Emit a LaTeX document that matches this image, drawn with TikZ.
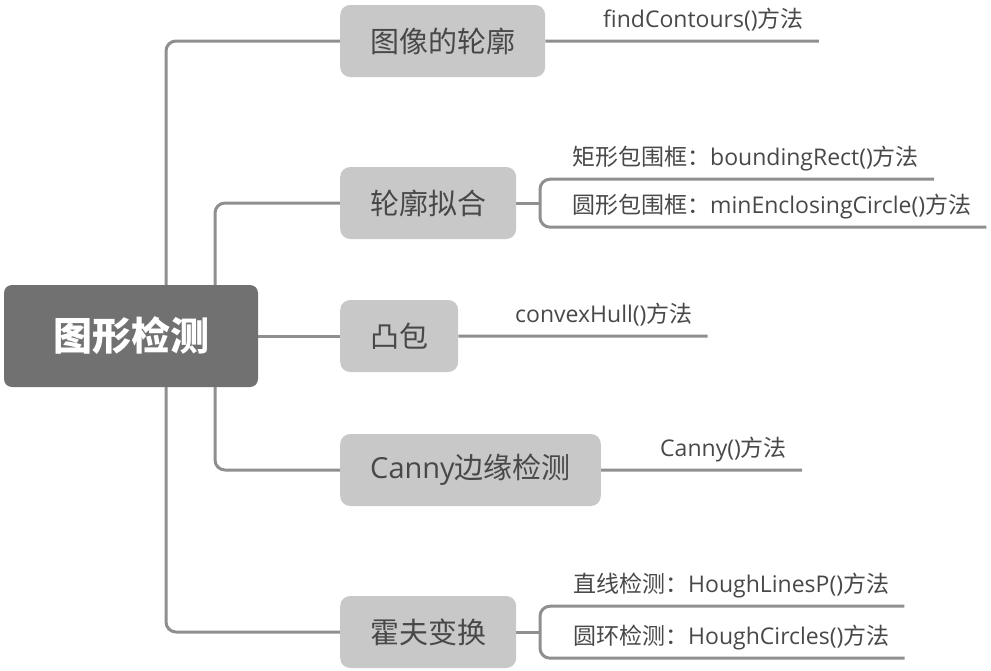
\documentclass[tikz,border=0pt]{standalone}
\usepackage{fontspec}
\setmainfont{Open Sans}
\newfontfamily\cjk{Noto Sans CJK SC}
\usetikzlibrary{backgrounds}
\definecolor{rootgray}{HTML}{717171}
\definecolor{boxgray}{HTML}{C8C8C8}
\definecolor{linegray}{HTML}{8F8F8F}
\definecolor{textgray}{HTML}{484848}
\newcommand{\zh}[1]{{\cjk #1}}

\begin{document}
\begin{tikzpicture}[x=1pt, y=-1pt,
	rootbox/.style={rectangle, rounded corners=8pt, fill=rootgray, text=white, minimum width=254pt, minimum height=102pt, font=\fontsize{39pt}{44pt}\selectfont\cjk\bfseries},
	topic/.style={rectangle, rounded corners=10pt, fill=boxgray, text=textgray, anchor=west, minimum height=72pt, inner xsep=30pt, font=\fontsize{29pt}{34pt}\selectfont},
	leaf/.style={anchor=base west, inner xsep=15pt, inner ysep=0pt, text depth=14pt, text=textgray, font=\fontsize{23pt}{28pt}\selectfont},
	branch/.style={draw=linegray, line width=3pt, rounded corners=10pt}]
			\useasboundingbox (0, 0) rectangle (991, 670);

			\node[rootbox] (root) at (131, 336) {图形检测};

			\node[topic] (t1) at (340, 41) {\zh{图像的轮廓}};
			\node[topic] (t2) at (340, 203) {\zh{轮廓拟合}};
			\node[topic] (t3) at (340, 336) {\zh{凸包}};
			\node[topic] (t4) at (340, 470) {Canny\zh{边缘检测}};
			\node[topic] (t5) at (340, 632) {\zh{霍夫变换}};

			\node[leaf] (l1) at (588, 27) {findContours()\zh{方法}};
			\node[leaf] (l2a) at (557, 165) {\zh{矩形包围框：}boundingRect()\zh{方法}};
			\node[leaf] (l2b) at (557, 213) {\zh{圆形包围框：}minEnclosingCircle()\zh{方法}};
			\node[leaf] (l3) at (500, 322) {convexHull()\zh{方法}};
			\node[leaf] (l4) at (645, 456) {Canny()\zh{方法}};
			\node[leaf] (l5a) at (558, 592) {\zh{直线检测：}HoughLinesP()\zh{方法}};
			\node[leaf] (l5b) at (558, 644) {\zh{圆环检测：}HoughCircles()\zh{方法}};

			\coordinate (k1) at (166, 336);
			\coordinate (k2) at (215, 336);
			\coordinate (b2) at (540, 203);
			\coordinate (b5) at (540, 632);

			\begin{scope}[on background layer]
			\draw[branch] (t1.west) -| (k1) |- (t5.west);
			\draw[branch] (t2.west) -| (k2) |- (t4.west);
			\draw[branch] (root.east) -- (t3.west);

			\draw[branch] (t1.east) -- (l1.south east);
			\draw[branch] (t3.east) -- (l3.south east);
			\draw[branch] (t4.east) -- (l4.south east);

			\draw[branch] (t2.east) -- (b2);
			\draw[branch] (l2a.south east) -| (b2) |- (l2b.south east);
			\draw[branch] (t5.east) -- (b5);
			\draw[branch] (l5a.south east) -| (b5) |- (l5b.south east);
			\end{scope}

		\end{tikzpicture}
\end{document}
